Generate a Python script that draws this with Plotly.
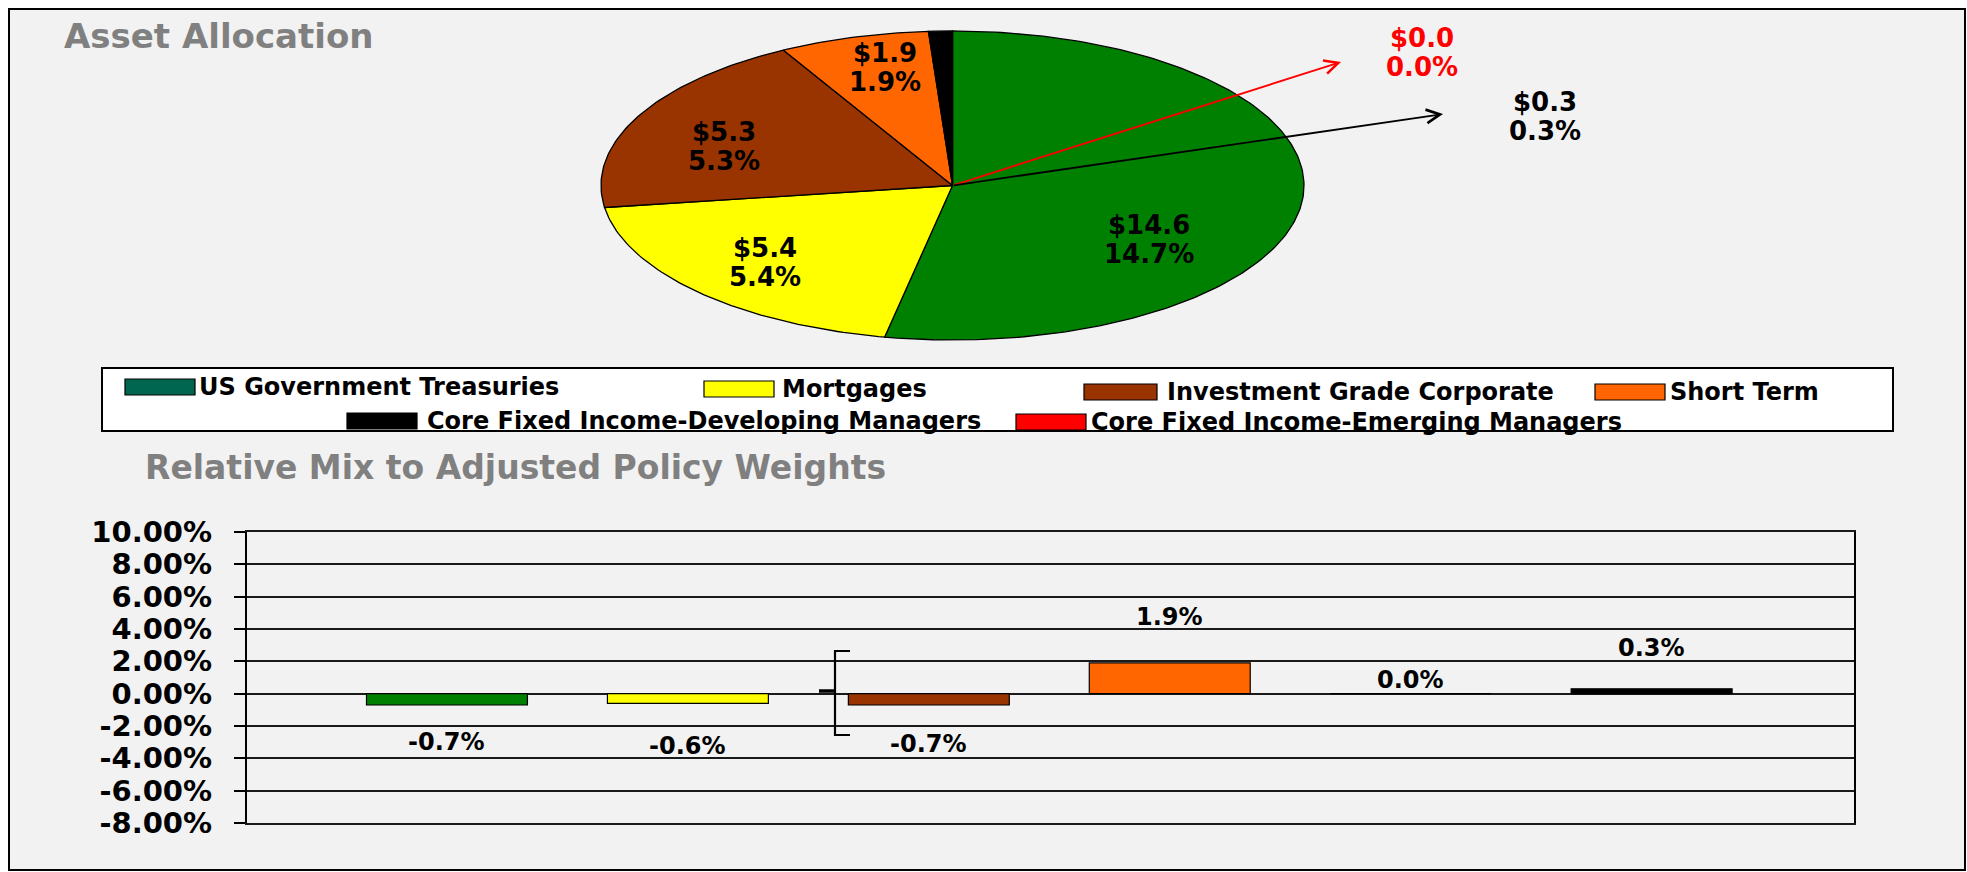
import numpy as np
import plotly.graph_objects as go

# ---------------- data ----------------
categories = [
    "US Government Treasuries",
    "Mortgages",
    "Investment Grade Corporate",
    "Short Term",
    "Core Fixed Income-Developing Managers",
    "Core Fixed Income-Emerging Managers",
]
pie_values = [14.6, 5.4, 5.3, 1.9, 0.3, 0.0]          # $ (billions)
pie_pct = [14.7, 5.4, 5.3, 1.9, 0.3, 0.0]             # % of total fund

bar_categories = [
    "US Government Treasuries",
    "Mortgages",
    "Investment Grade Corporate",
    "Short Term",
    "Core Fixed Income-Emerging Managers",
    "Core Fixed Income-Developing Managers",
]
bar_values = [-0.7, -0.6, -0.7, 1.9, 0.0, 0.3]        # % relative mix
y_tick_values = [-8, -6, -4, -2, 0, 2, 4, 6, 8, 10]    # %
y_tick_labels = ["-8.00%", "-6.00%", "-4.00%", "-2.00%", "0.00%",
                 "2.00%", "4.00%", "6.00%", "8.00%", "10.00%"]

title_main = "Asset Allocation"
title_sub = "Relative Mix to Adjusted Policy Weights"

# ---------------- styles ----------------
slice_colors = {
    "US Government Treasuries": "#008000",
    "Mortgages": "#FFFF00",
    "Investment Grade Corporate": "#993300",
    "Short Term": "#FF6600",
    "Core Fixed Income-Developing Managers": "#000000",
    "Core Fixed Income-Emerging Managers": "#FF0000",
}
legend_colors = dict(slice_colors)
legend_colors["US Government Treasuries"] = "#00664F"

W, H = 1967, 872
FONT = "DejaVu Sans"


def px(x):
    return x / W


def py(y):
    return 1 - y / H


fig = go.Figure()

# ---------------- pie (elliptical, drawn on its own axes) ----------------
PIE_CX, PIE_CY, PIE_RX, PIE_RY, PAD = 952.5, 185.5, 351.5, 154.5, 0.03
total = sum(pie_values)
start = 0.0
for cat, v in zip(categories, pie_values):
    a0 = start / total * 2 * np.pi
    a1 = (start + v) / total * 2 * np.pi
    start += v
    n = max(2, int(np.degrees(a1 - a0)) + 2)
    th = np.linspace(a0, a1, n)
    xs = np.concatenate([[0], np.sin(th), [0]])
    ys = np.concatenate([[0], np.cos(th), [0]])
    fig.add_trace(go.Scatter(
        x=xs, y=ys, mode="lines", fill="toself",
        fillcolor=slice_colors[cat], line=dict(color="black", width=1.3),
        name=cat, showlegend=False, hoverinfo="name",
        xaxis="x", yaxis="y",
    ))

# ---------------- bars ----------------
fig.add_trace(go.Bar(
    x=bar_categories, y=[v / 100 for v in bar_values],
    marker=dict(color=[slice_colors[c] for c in bar_categories],
                line=dict(color="black", width=1.2)),
    showlegend=False, xaxis="x2", yaxis="y2", width=0.668,
))

annotations = []
shapes = []

# outer frame
shapes.append(dict(type="rect", xref="paper", yref="paper",
                   x0=px(9), x1=px(1965), y0=py(870), y1=py(9),
                   fillcolor="#F2F2F2", line=dict(color="black", width=2),
                   layer="below"))

# titles
annotations.append(dict(text=title_main, xref="paper", yref="paper",
                        x=px(62), y=py(36), xanchor="left", yanchor="middle",
                        showarrow=False,
                        font=dict(family=FONT, size=34, color="#808080", weight="bold")))
annotations.append(dict(text=title_sub, xref="paper", yref="paper",
                        x=px(143), y=py(467), xanchor="left", yanchor="middle",
                        showarrow=False,
                        font=dict(family=FONT, size=33, color="#808080", weight="bold")))

# pie labels (pixel centre of the two-line block)
pie_label_xy = [(1149, 239), (765, 262.5), (724, 146), (885, 67.5), (1545, 116.5), (1422, 52)]
for cat, v, p, (lx, ly) in zip(categories, pie_values, pie_pct, pie_label_xy):
    col = "#FF0000" if cat == "Core Fixed Income-Emerging Managers" else "black"
    for txt, dy in ((f"${v:.1f}", -14.5), (f"{p:.1f}%", 14.5)):
        annotations.append(dict(text=txt, xref="paper", yref="paper",
                                x=px(lx), y=py(ly + dy), xanchor="center", yanchor="middle",
                                showarrow=False,
                                font=dict(family=FONT, size=26, color=col, weight="bold")))

# leader arrows from pie centre for the tiny slices
leader_heads = {"Core Fixed Income-Emerging Managers": (1341, 62, "#FF0000"),
                "Core Fixed Income-Developing Managers": (1443, 114, "black")}
for cat, (hx, hy, col) in leader_heads.items():
    annotations.append(dict(text="", xref="x", yref="y", axref="x", ayref="y",
                            x=(hx - PIE_CX) / PIE_RX, y=(PIE_CY - hy) / PIE_RY, ax=0, ay=0,
                            showarrow=True, arrowhead=5, arrowsize=1.5, arrowwidth=1.8,
                            arrowcolor=col, standoff=0, startstandoff=0))

# legend box
shapes.append(dict(type="rect", xref="paper", yref="paper",
                   x0=px(102), x1=px(1893), y0=py(431), y1=py(368),
                   fillcolor="white", line=dict(color="black", width=2)))
legend_pos = {  # swatch_left, swatch_right, text_left, y_center
    "US Government Treasuries": (125, 195, 197, 387),
    "Mortgages": (704, 774, 780, 389),
    "Investment Grade Corporate": (1084, 1157, 1165, 392),
    "Short Term": (1595, 1665, 1668, 392),
    "Core Fixed Income-Developing Managers": (347, 417, 425, 421),
    "Core Fixed Income-Emerging Managers": (1016, 1086, 1089, 422),
}
for cat in categories:
    sl, sr, tl, yc = legend_pos[cat]
    shapes.append(dict(type="rect", xref="paper", yref="paper",
                       x0=px(sl), x1=px(sr), y0=py(yc + 8), y1=py(yc - 8),
                       fillcolor=legend_colors[cat], line=dict(color="black", width=1.2)))
    annotations.append(dict(text=cat, xref="paper", yref="paper",
                            x=px(tl), y=py(yc), xanchor="left", yanchor="middle",
                            showarrow=False,
                            font=dict(family=FONT, size=24, color="black", weight="bold")))

# bar labels
bar_label_shift = [-37, -43, -39, 46, 14, 41]
for cat, v, s in zip(bar_categories, bar_values, bar_label_shift):
    annotations.append(dict(text=f"{v:.1f}%", xref="x2", yref="y2",
                            x=cat, y=v / 100, yshift=s, xanchor="center", yanchor="middle",
                            showarrow=False,
                            font=dict(family=FONT, size=24, color="black", weight="bold")))

# bracket mark near the third bar
shapes.append(dict(type="path", xref="paper", yref="paper",
                   path=f"M {px(850)} {py(651)} L {px(835)} {py(651)} L {px(835)} {py(735)} L {px(850)} {py(735)}",
                   line=dict(color="black", width=2.2)))
shapes.append(dict(type="line", xref="paper", yref="paper",
                   x0=px(819), x1=px(835), y0=py(691), y1=py(691),
                   line=dict(color="black", width=3.5)))

fig.update_layout(
    width=W, height=H,
    margin=dict(l=0, r=0, t=0, b=0, autoexpand=False),
    paper_bgcolor="white",
    plot_bgcolor="rgba(0,0,0,0)",
    showlegend=False,
    bargap=0.332,
    annotations=annotations,
    shapes=shapes,
    xaxis=dict(domain=[px(PIE_CX - PIE_RX * (1 + PAD)), px(PIE_CX + PIE_RX * (1 + PAD))],
               range=[-1 - PAD, 1 + PAD], visible=False, fixedrange=True),
    yaxis=dict(domain=[py(PIE_CY + PIE_RY * (1 + PAD)), py(PIE_CY - PIE_RY * (1 + PAD))],
               range=[-1 - PAD, 1 + PAD], visible=False, fixedrange=True),
    xaxis2=dict(domain=[px(247), px(1854)], range=[-0.83, 5.84], anchor="y2",
                showticklabels=False, showgrid=False, ticks="",
                showline=True, linecolor="#1a1a1a", linewidth=1.6, mirror=True,
                zeroline=False, automargin=False),
    yaxis2=dict(domain=[py(823), py(532)], range=[-0.08, 0.10], anchor="x2",
                tickvals=[t / 100 for t in y_tick_values], ticktext=y_tick_labels,
                showgrid=True, gridcolor="#1a1a1a", gridwidth=1.6,
                zeroline=True, zerolinecolor="#1a1a1a", zerolinewidth=1.6,
                showline=True, linecolor="black", linewidth=2.2, mirror=True,
                ticks="outside", ticklen=11, tickwidth=1.6, tickcolor="black",
                ticklabelstandoff=16, automargin=False,
                tickfont=dict(family=FONT, size=29, color="black", weight="bold")),
)

fig.write_html(
    "out.html",
    config={"displayModeBar": False},
    post_script="document.documentElement.style.margin='0';"
                "document.body.style.margin='0';"
                "document.body.style.overflow='hidden';",
)
